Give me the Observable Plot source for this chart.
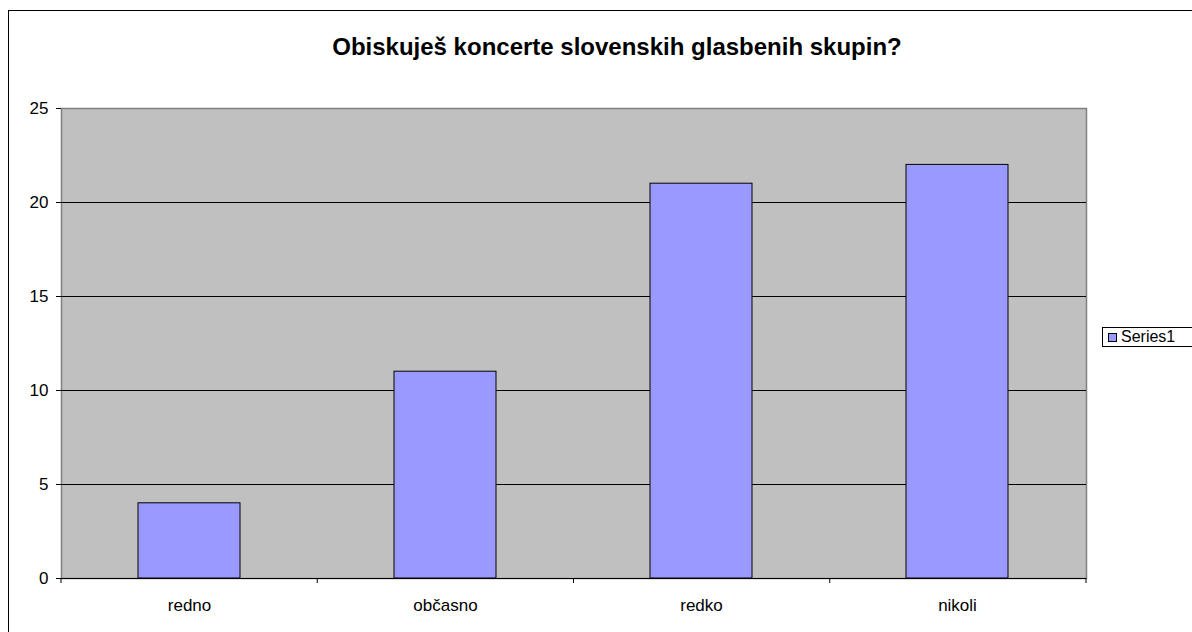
<!DOCTYPE html>
<html>
<head>
<meta charset="utf-8">
<script src="https://cdn.jsdelivr.net/npm/d3@7"></script>
<script src="https://cdn.jsdelivr.net/npm/@observablehq/plot@0.6"></script>
<style>
  html, body { margin: 0; padding: 0; background: #fff; overflow: hidden; }
  #wrap { position: relative; width: 1192px; height: 632px; overflow: hidden; font-family: "Liberation Sans", Arial, sans-serif; }
  #frame { position: absolute; left: 8px; top: 10px; width: 1400px; height: 800px; border: 1px solid #000; box-sizing: border-box; pointer-events: none; }
  #chart { position: absolute; left: 0; top: 0; }
  #title { position: absolute; left: 8px; width: 1218px; top: 33px; text-align: center; font-weight: bold; font-size: 24px; line-height: 28px; color: #000; }
  #legend { position: absolute; left: 1102px; top: 327px; width: 120px; height: 20px; border: 1px solid #000; background: #fff; box-sizing: border-box; display: flex; align-items: center; font-size: 16px; }
  #legend .sw { width: 7px; height: 7px; background: #9999ff; border: 1px solid #000; margin-left: 5px; margin-right: 4px; }
</style>
</head>
<body>
<div id="wrap">
  <div id="frame"></div>
  <div id="chart"></div>
  <div id="title"></div>
  <div id="legend"><span class="sw"></span><span id="legtext"></span></div>
</div>
<script>
const titleText = "Obiskuješ koncerte slovenskih glasbenih skupin?";
const seriesName = "Series1";
const categories = ["redno", "občasno", "redko", "nikoli"];
const values = [4, 11, 21, 22];
const yTicks = [0, 5, 10, 15, 20, 25];
const gridValues = [5, 10, 15, 20];

document.getElementById("title").textContent = titleText;
document.getElementById("legtext").textContent = seriesName;

const data = categories.map((c, i) => ({cat: c, value: values[i]}));

const boundaries = (index, scales, values, dimensions) => {
  const g = d3.create("svg:g");
  const {width, marginLeft, marginRight, height, marginBottom} = dimensions;
  const step = (width - marginLeft - marginRight) / categories.length;
  for (let i = 0; i <= categories.length; i++) {
    const x = marginLeft + i * step;
    g.append("line")
      .attr("x1", x).attr("x2", x)
      .attr("y1", height - marginBottom).attr("y2", height - marginBottom + 5)
      .attr("stroke", "#000").attr("stroke-width", 1);
  }
  return g.node();
};

const chart = Plot.plot({
  width: 1192,
  height: 632,
  marginLeft: 61,
  marginRight: 106,
  marginTop: 108,
  marginBottom: 54,
  style: {fontFamily: "'Liberation Sans', Arial, sans-serif", fontSize: "17px", color: "#000", background: "transparent"},
  x: {domain: categories, paddingInner: 0.6, paddingOuter: 0.3, label: null},
  y: {domain: [0, 25], label: null},
  marks: [
    Plot.frame({fill: "#c0c0c0", stroke: "#808080", strokeWidth: 1.5}),
    Plot.ruleY(gridValues, {stroke: "#000", strokeWidth: 1}),
    Plot.barY(data, {x: "cat", y: "value", fill: "#9999ff", stroke: "#000", strokeWidth: 1}),
    Plot.ruleX([0], {frameAnchor: "left", stroke: "#000"}),
    Plot.ruleY([0], {stroke: "#000"}),
    Plot.axisY({ticks: yTicks, tickSize: 5, tickPadding: 8, stroke: "#000", fontSize: 17, tickFormat: d => String(d)}),
    Plot.axisX({tickSize: 0, tickPadding: 20, fontSize: 17}),
    boundaries
  ]
});
document.getElementById("chart").appendChild(chart);
</script>
</body>
</html>
